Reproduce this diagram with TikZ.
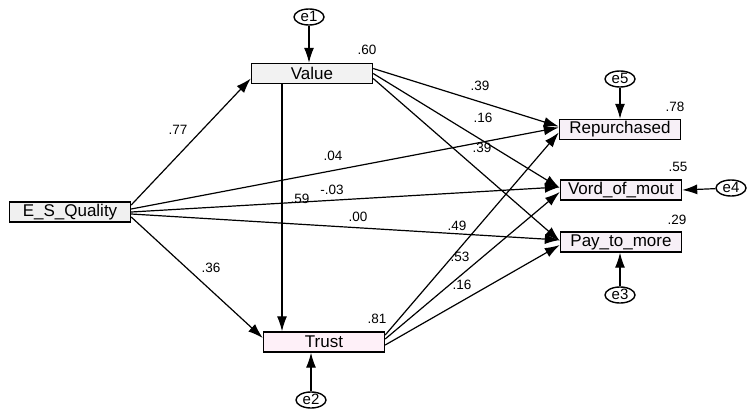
\documentclass[tikz,border=0pt]{standalone}
\usepackage{fontspec}
\setmainfont{Liberation Sans}
\usetikzlibrary{shapes,arrows.meta,positioning}

\begin{document}
\begin{tikzpicture}[
    x=1pt, y=-1pt,
    block/.style={rectangle, draw, line width=1.4pt, fill=violet!6, minimum width=121pt, minimum height=20pt, inner sep=0pt, font=\fontsize{17}{20}\selectfont},
    error/.style={ellipse, draw, line width=1.4pt, fill=white, minimum width=30pt, minimum height=16pt, inner sep=0pt, text height=10pt, text depth=1pt, font=\fontsize{15}{17}\selectfont},
    coef/.style={font=\fontsize{13.5}{15}\selectfont, inner sep=1pt},
    link/.style={draw, line width=1.2pt, -{Latex[length=15pt,width=10pt]}}
]
\useasboundingbox (0,0) rectangle (747,410);

% Nodes
\node [block, fill=gray!12] (quality) at (70,212) {E\_S\_Quality};
\node [block, fill=gray!10] (value) at (312,73.5) {Value};
\node [block, fill=magenta!6] (trust) at (324,342) {Trust};
\node [block] (repurchase) at (620,129.5) {Repurchased};
\node [block] (wom) at (621,190) {Vord\_of\_mout};
\node [block] (pay) at (621,242) {Pay\_to\_more};

% Error terms
\node [error] (e1) at (309,17) {e1};
\node [error] (e2) at (311,400) {e2};
\node [error] (e5) at (620,79) {e5};
\node [error] (e4) at (731,188) {e4};
\node [error] (e3) at (620,295) {e3};

% Squared multiple correlations
\node [coef] (r2value) at (367,50) {.60};
\node [coef] (r2trust) at (377,319) {.81};
\node [coef] (r2repurchase) at (675,107) {.78};
\node [coef] (r2wom) at (678,167) {.55};
\node [coef] (r2pay) at (677,220) {.29};

% Edges
\path [link] (e1) -- (e1 |- value.north);
\path [link] (e2) -- (e2 |- trust.south);
\path [link] (e5) -- (e5 |- repurchase.north);
\path [link] (e3) -- (e3 |- pay.south);
\path [link] (e4) -- (wom.east);

\path [link] ([yshift=7pt]quality.east) -- ([yshift=-5pt]value.west);
\path [link] ([yshift=-5pt]quality.east) -- ([yshift=4pt]trust.west);
\path [link] ([yshift=3pt]quality.east) -- ([yshift=2pt]repurchase.west);
\path [link] (quality.east) -- ([yshift=3pt]wom.west);
\path [link] ([yshift=-2pt]quality.east) -- ([yshift=2pt]pay.west);

\path [link] ([yshift=5pt]value.east) -- ([yshift=3pt]repurchase.west);
\path [link] (value.east) -- ([yshift=2pt]wom.west);
\path [link] ([yshift=-5pt]value.east) -- ([yshift=1pt]pay.west);
\path [link] ([xshift=-30pt]value.south) -- ([xshift=-42pt]trust.north);

\path [link] ([yshift=7pt]trust.east) -- ([yshift=-3pt]repurchase.west);
\path [link] ([yshift=3pt]trust.east) -- ([yshift=-2pt]wom.west);
\path [link] ([yshift=-3pt]trust.east) -- ([yshift=-3pt]pay.west);

% Path coefficients
\node [coef] (c77) at (178,130) {.77};
\node [coef] (c36) at (211,268) {.36};
\node [coef] (c04) at (333,156) {.04};
\node [coef] (c03) at (332,190) {-.03};
\node [coef] (c00) at (358,217) {.00};
\node [coef] (c59) at (300,199) {.59};
\node [coef] (c39a) at (480,86) {.39};
\node [coef] (c16a) at (483,118) {.16};
\node [coef] (c39b) at (482,148) {.39};
\node [coef] (c49) at (457,226) {.49};
\node [coef] (c53) at (460,257) {.53};
\node [coef] (c16b) at (462,285) {.16};

\end{tikzpicture}
\end{document}
